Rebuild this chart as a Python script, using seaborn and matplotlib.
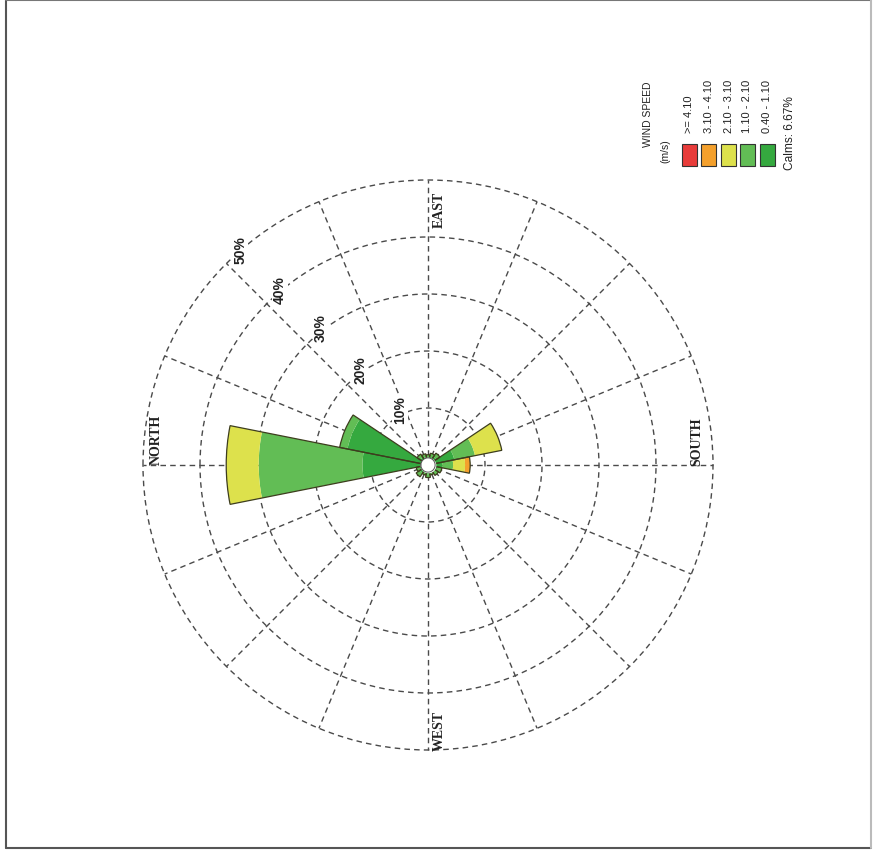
import numpy as np
import matplotlib
matplotlib.use("Agg")
import matplotlib.pyplot as plt
import seaborn as sns
from matplotlib.patches import Rectangle
from matplotlib.lines import Line2D

# ---------------- data ----------------
directions = ["N", "NNE", "NE", "ENE", "E", "ESE", "SE", "SSE",
              "S", "SSW", "SW", "WSW", "W", "WNW", "NW", "NNW"]
speed_bins = ["0.40 - 1.10", "1.10 - 2.10", "2.10 - 3.10", "3.10 - 4.10", ">= 4.10"]
# frequency (%) per direction, per speed class
freq_040_110 = [11.5, 14.4, 1.6, 1.4, 1.3, 1.5, 1.7, 4.7, 2.5, 1.7, 1.5, 1.3, 1.6, 1.3, 1.7, 1.5]
freq_110_210 = [18.2, 1.4, 0.7, 0.6, 0.5, 0.6, 0.8, 3.7, 1.9, 0.8, 0.7, 0.5, 0.6, 0.5, 0.8, 0.6]
freq_210_310 = [5.7, 0.0, 0.0, 0.0, 0.0, 0.0, 0.0, 4.8, 2.1, 0.0, 0.0, 0.0, 0.0, 0.0, 0.0, 0.0]
freq_310_410 = [0.0, 0.0, 0.0, 0.0, 0.0, 0.0, 0.0, 0.0, 0.9, 0.0, 0.0, 0.0, 0.0, 0.0, 0.0, 0.0]
freq_410_up = [0.0] * 16
calm_pct = 6.67
ring_values = [10, 20, 30, 40, 50]
ring_labels = ["10%", "20%", "30%", "40%", "50%"]
compass_labels = ["NORTH", "EAST", "SOUTH", "WEST"]

bin_colors = ["#35a93f", "#62bd55", "#dde14c", "#f4a02c", "#e83c3a"]
legend_colors = ["#e83c3a", "#f4a02c", "#dde14c", "#62bd55", "#35a93f"]

# ---------------- figure ----------------
sns.set_theme(style="white")
plt.rcParams["font.family"] = ["Liberation Sans", "DejaVu Sans"]

W, H = 876, 854
fig = plt.figure(figsize=(W / 100, H / 100), dpi=100)
fig.patch.set_facecolor("white")

cx, cy, R = 428, 466, 285
ax = fig.add_axes([(cx - R) / W, (H - cy - R) / H, 2 * R / W, 2 * R / H], projection="polar")
ax.set_theta_zero_location("W")
ax.set_theta_direction(-1)
ax.set_ylim(0, 50)
ax.set_facecolor("none")
ax.spines["polar"].set_visible(False)

theta = np.deg2rad(np.arange(16) * 22.5)
width = np.deg2rad(22.5)

ax.set_xticks(theta)
ax.set_xticklabels([])
ax.set_yticks(ring_values)
ax.set_yticklabels([])
ax.grid(True, color="#4a4a4a", linestyle=(0, (4, 3)), linewidth=1.0)
for gl in ax.yaxis.get_gridlines() + ax.xaxis.get_gridlines():
    gl.set_clip_on(False)

series = [freq_040_110, freq_110_210, freq_210_310, freq_310_410, freq_410_up]
bottom = np.zeros(16)
for vals, col in zip(series, bin_colors):
    vals = np.asarray(vals)
    ax.bar(theta, vals, width=width, bottom=bottom, color=col, edgecolor="none",
           linewidth=0, align="center", zorder=3)
    bottom = bottom + vals
ax.bar(theta, bottom, width=width, bottom=0, facecolor="none", edgecolor="#3d3d1e",
       linewidth=0.9, align="center", zorder=4)

# calm circle
tt = np.linspace(0, 2 * np.pi, 200)
ax.fill_between(tt, 0, 1.25, color="white", zorder=5)
ax.plot(tt, np.full_like(tt, 1.25), color="#555555", lw=0.7, zorder=6)

# ring labels
ring_pos = [(63.4, 11.0), (54.7, 20.6), (52.0, 30.7), (50.0, 40.4), (49.0, 50.2)]
for lab, (th, r) in zip(ring_labels, ring_pos):
    ax.text(np.deg2rad(th), r, lab, rotation=90, ha="center", va="center",
            fontsize=10, fontweight="bold", color="#222222", zorder=7,
            bbox=dict(facecolor="white", edgecolor="none", pad=0.5))

# compass labels
comp_pos = [(5.46, 47.9), (92.5, 44.95), (174.9, 47.4), (267.6, 46.5)]
for lab, (th, r) in zip(compass_labels, comp_pos):
    ax.text(np.deg2rad(th), r, lab, rotation=90, ha="center", va="center",
            fontsize=10, fontweight="bold", family=["Liberation Serif", "DejaVu Serif"],
            color="#222222", zorder=7)

# ---------------- legend ----------------
def fx(x):
    return x / W

def fy(y):
    return (H - y) / H

fig.text(fx(648), fy(147), "WIND SPEED", rotation=90, ha="center", va="bottom", fontsize=7.5, color="#222222")
fig.text(fx(665), fy(163), "(m/s)", rotation=90, ha="center", va="bottom", fontsize=7.5, color="#222222")
box_x = [682, 701, 721, 740, 760]
for bx, col, lab in zip(box_x, legend_colors, speed_bins[::-1]):
    fig.patches.append(Rectangle((fx(bx), fy(167)), 15 / W, 22 / H, transform=fig.transFigure,
                                 facecolor=col, edgecolor="#333333", linewidth=0.8))
    fig.text(fx(bx + 7.5), fy(133), lab, rotation=90, ha="center", va="bottom", fontsize=8, color="#222222")
fig.text(fx(790), fy(170), f"Calms: {calm_pct:.2f}%", rotation=90, ha="center", va="bottom",
         fontsize=8.6, color="#222222")

# border (left, top, bottom dark; right faint)
for (x0, y0, x1, y1, c) in [(6, 1, 6, 849, "#555555"), (6, 1, 871, 1, "#777777"),
                            (6, 849, 871, 849, "#555555"), (871, 1, 871, 849, "#bbbbbb")]:
    fig.lines.append(Line2D([fx(x0), fx(x1)], [fy(y0), fy(y1)], transform=fig.transFigure,
                            color=c, linewidth=1.5))

fig.savefig("out.png", dpi=100, facecolor="white")
